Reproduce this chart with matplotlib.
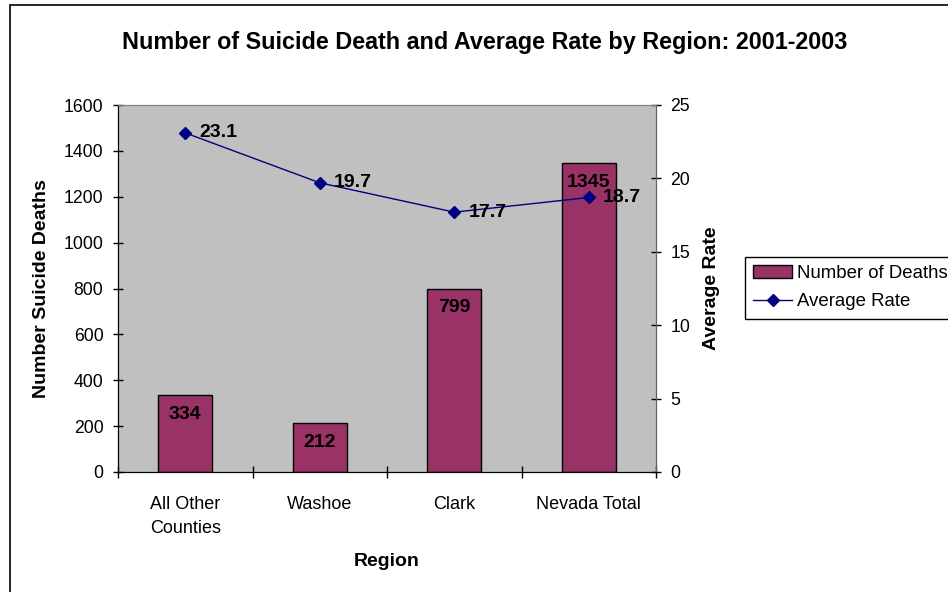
import matplotlib.pyplot as plt
from matplotlib.patches import Rectangle
import numpy as np

plt.rcParams['font.family'] = ['Liberation Sans', 'DejaVu Sans']

# data
regions = ["All Other\nCounties", "Washoe", "Clark", "Nevada Total"]
deaths = [334, 212, 799, 1345]
avg_rate = [23.1, 19.7, 17.7, 18.7]

BAR_COLOR = '#993366'
LINE_COLOR = '#000080'
PLOT_BG = '#C0C0C0'

fig = plt.figure(figsize=(9.48, 5.92), dpi=100)
W, H = 948, 592

# chart area border (runs off right and bottom edge)
fig.patches.append(Rectangle((10 / W, -0.1), 1.2, 1 - 5 / H + 0.1,
                             transform=fig.transFigure, fill=False,
                             edgecolor='black', linewidth=1.2))

ax = fig.add_axes([118 / W, 1 - 472 / H, (656 - 118) / W, (472 - 105) / H])
ax.set_facecolor(PLOT_BG)

x = np.arange(len(regions))
bars = ax.bar(x, deaths, width=0.4, color=BAR_COLOR, edgecolor='black',
              linewidth=1.0, label='Number of Deaths', zorder=2)
ax.set_xlim(-0.5, len(regions) - 0.5)
ax.set_ylim(0, 1600)
ax.set_yticks(np.arange(0, 1601, 200))
ax.set_xticks(x)
ax.set_xticklabels(regions, fontsize=13, linespacing=1.55)
ax.set_xticks(np.arange(-0.5, len(regions), 1), minor=True)
ax.tick_params(axis='x', which='major', length=0, pad=17)
ax.tick_params(axis='x', which='minor', direction='inout', length=8, width=1)
ax.tick_params(axis='y', direction='inout', length=7, width=1, labelsize=12.7, pad=7)

for b, v in zip(bars, deaths):
    ax.annotate(str(v), (b.get_x() + b.get_width() / 2, v),
                xytext=(0, -19), textcoords='offset pixels',
                ha='center', va='center', fontsize=14, fontweight='bold')

ax.set_ylabel('Number Suicide Deaths', fontsize=14, fontweight='bold', va='center')
ax.yaxis.set_label_coords((42 - 118) / 538, 0.5)
ax.set_xlabel('Region', fontsize=14, fontweight='bold', va='center')
ax.xaxis.set_label_coords(0.5, (472 - 562) / 367)

for side in ['top', 'right']:
    ax.spines[side].set_color('#808080')
ax.spines['left'].set_color('black')
ax.spines['bottom'].set_color('black')

ax2 = ax.twinx()
line, = ax2.plot(x, avg_rate, color=LINE_COLOR, marker='D', markersize=6,
                 linewidth=1.0, label='Average Rate', zorder=3)
ax2.set_ylim(0, 25)
ax2.set_yticks(np.arange(0, 26, 5))
ax2.tick_params(axis='y', direction='inout', length=7, width=1, labelsize=12.7, pad=7)
ax2.spines['right'].set_color('#606060')
ax2.spines['top'].set_color('#808080')
ax2.set_ylabel('Average Rate', fontsize=14, fontweight='bold', va='center')
ax2.yaxis.set_label_coords((711 - 118) / 538, 0.5)

for xi, v in zip(x, avg_rate):
    ax2.annotate(f"{v:.1f}", (xi, v), xytext=(14, 0), textcoords='offset pixels',
                 ha='left', va='center', fontsize=14, fontweight='bold')

fig.text(485 / W, 1 - 42 / H,
         'Number of Suicide Death and Average Rate by Region: 2001-2003',
         ha='center', va='center', fontsize=16.8, fontweight='bold')

fig.legend([bars, line], ['Number of Deaths', 'Average Rate'],
           loc='upper left', bbox_to_anchor=(745 / W, 1 - 257 / H),
           fontsize=13.4, frameon=True, fancybox=False, edgecolor='black',
           framealpha=1, borderpad=0.44, handlelength=2.1, handletextpad=0.28,
           labelspacing=0.6, borderaxespad=0)

fig.savefig('out.png', dpi=100)
